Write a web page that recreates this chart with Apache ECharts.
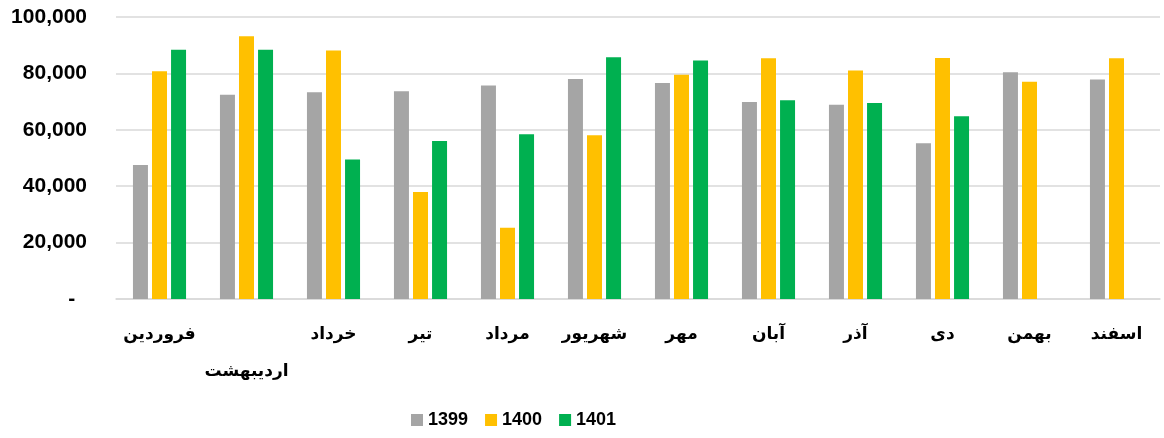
<!DOCTYPE html>
<html>
<head>
<meta charset="utf-8">
<script src="https://cdn.jsdelivr.net/npm/echarts@6/dist/echarts.min.js"></script>
<style>
html,body{margin:0;padding:0;background:#fff;}
#chart{width:1164px;height:438px;}
</style>
</head>
<body>
<div id="chart"></div>
<script>
const categories = ['فروردین','اردیبهشت','خرداد','تیر','مرداد','شهریور','مهر','آبان','آذر','دی','بهمن','اسفند'];
const seriesNames = ['1399','1400','1401'];
const values1399 = [47500, 72400, 73300, 73700, 75700, 78000, 76600, 69900, 68900, 55200, 80400, 77800];
const values1400 = [80800, 93200, 88100, 37900, 25300, 58100, 79500, 85400, 81000, 85500, 77000, 85400];
const values1401 = [88400, 88400, 49500, 56000, 58400, 85700, 84600, 70500, 69500, 64800, null, null];
const yTicks = [0, 20000, 40000, 60000, 80000, 100000];

const colors = ['#A5A5A5', '#FFC000', '#00B050'];
const chart = echarts.init(document.getElementById('chart'));
const mk = (name, data, color) => ({
  name, type: 'bar', data,
  itemStyle: { color },
  barWidth: 15, barGap: '27%'
});
chart.setOption({
  animation: false,
  color: colors,
  grid: { left: 116, right: 4, top: 17, bottom: 139, containLabel: false },
  legend: {
    bottom: 4, left: 406,
    itemWidth: 12, itemHeight: 12, itemGap: 17,
    icon: 'rect',
    textStyle: { fontFamily: 'Liberation Sans', fontWeight: 'bold', fontSize: 18, color: '#000' },
    data: seriesNames
  },
  xAxis: {
    type: 'category',
    data: categories.map((c, i) => i === 1 ? '\n' + c : c),
    axisLine: { lineStyle: { color: '#D9D9D9', width: 1.5 } },
    axisTick: { show: false },
    axisLabel: {
      interval: 0, margin: 17, lineHeight: 37,
      fontFamily: 'DejaVu Sans', fontWeight: 'bold', fontSize: 17, color: '#000'
    }
  },
  yAxis: {
    type: 'value', min: yTicks[0], max: yTicks[yTicks.length - 1], interval: 20000,
    axisLine: { show: false }, axisTick: { show: false },
    splitLine: { lineStyle: { color: '#D9D9D9', width: 1.5 } },
    axisLabel: {
      margin: 29,
      fontFamily: 'Liberation Sans', fontWeight: 'bold', fontSize: 21, color: '#000',
      formatter: v => v === 0 ? '-  ' : v.toLocaleString('en-US')
    }
  },
  series: [
    mk(seriesNames[0], values1399, colors[0]),
    mk(seriesNames[1], values1400, colors[1]),
    mk(seriesNames[2], values1401, colors[2])
  ]
});
</script>
</body>
</html>
